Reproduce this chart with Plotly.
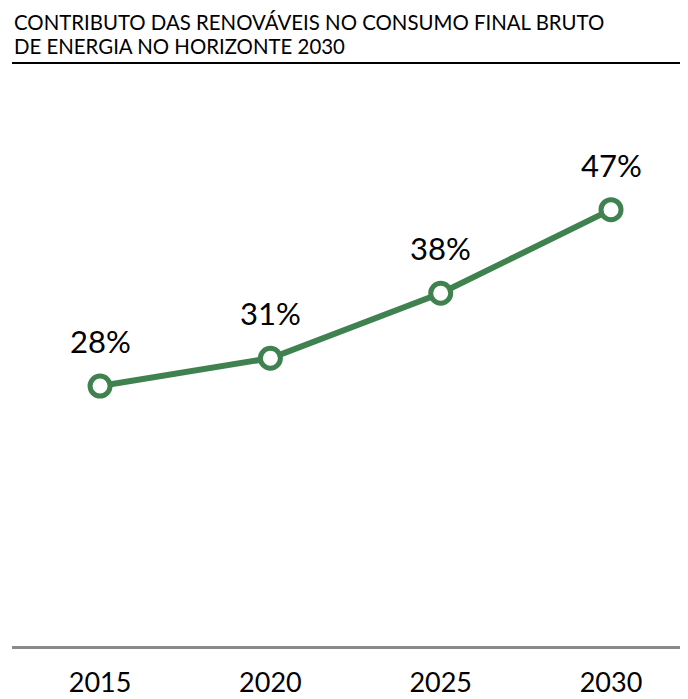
import plotly.graph_objects as go

years = ["2015", "2020", "2025", "2030"]
shares = [28, 31, 38, 47]
labels = ["28%", "31%", "38%", "47%"]
title_lines = ["CONTRIBUTO DAS RENOVÁVEIS NO CONSUMO FINAL BRUTO",
               "DE ENERGIA NO HORIZONTE 2030"]

GREEN = "#3f8250"
FONT = "Lato, Open Sans, sans-serif"

# page body has an 8px margin, so the figure is sized/offset to compensate
W, H = 680, 691
L, R, T, B = 4, 0, 81, 53
plot_h = H - T - B

def py(pix_ref):
    # reference-page pixel -> paper coordinate
    return (H - B - (pix_ref - 8)) / plot_h

fig = go.Figure()
fig.add_trace(go.Scatter(
    x=list(range(len(years))), y=shares, mode="lines+markers",
    line=dict(color=GREEN, width=6),
    marker=dict(size=20, color="white", line=dict(color=GREEN, width=5)),
    hoverinfo="skip", cliponaxis=False,
))

for i, (v, t) in enumerate(zip(shares, labels)):
    fig.add_annotation(x=i, y=v, text=t, showarrow=False, yshift=45,
                       font=dict(family=FONT, size=31, color="black"))

fig.add_annotation(xref="paper", yref="paper", x=0, y=py(22), xanchor="left",
                   yanchor="middle", text=title_lines[0], showarrow=False,
                   font=dict(family=FONT, size=20.4, color="black"))
fig.add_annotation(xref="paper", yref="paper", x=0, y=py(46), xanchor="left",
                   yanchor="middle", text=title_lines[1], showarrow=False,
                   font=dict(family=FONT, size=20.4, color="black"))
fig.add_shape(type="line", xref="paper", yref="paper", x0=0, x1=1,
              y0=py(63), y1=py(63), line=dict(color="black", width=2))

fig.update_layout(
    width=W, height=H,
    margin=dict(l=L, r=R, t=T, b=B, autoexpand=False),
    paper_bgcolor="white", plot_bgcolor="white",
    showlegend=False,
    xaxis=dict(range=[-0.517, 3.452], showgrid=False, automargin=False,
               tickmode="array", tickvals=list(range(len(years))), ticktext=years,
               zeroline=False, showline=True, linecolor="#8a8a8a", linewidth=3,
               ticks="outside", ticklen=11, tickcolor="rgba(0,0,0,0)",
               tickfont=dict(family=FONT, size=27, color="black")),
    yaxis=dict(range=[0, 60], visible=False, showgrid=False, zeroline=False,
               automargin=False),
)

fig.write_html("out.html")
